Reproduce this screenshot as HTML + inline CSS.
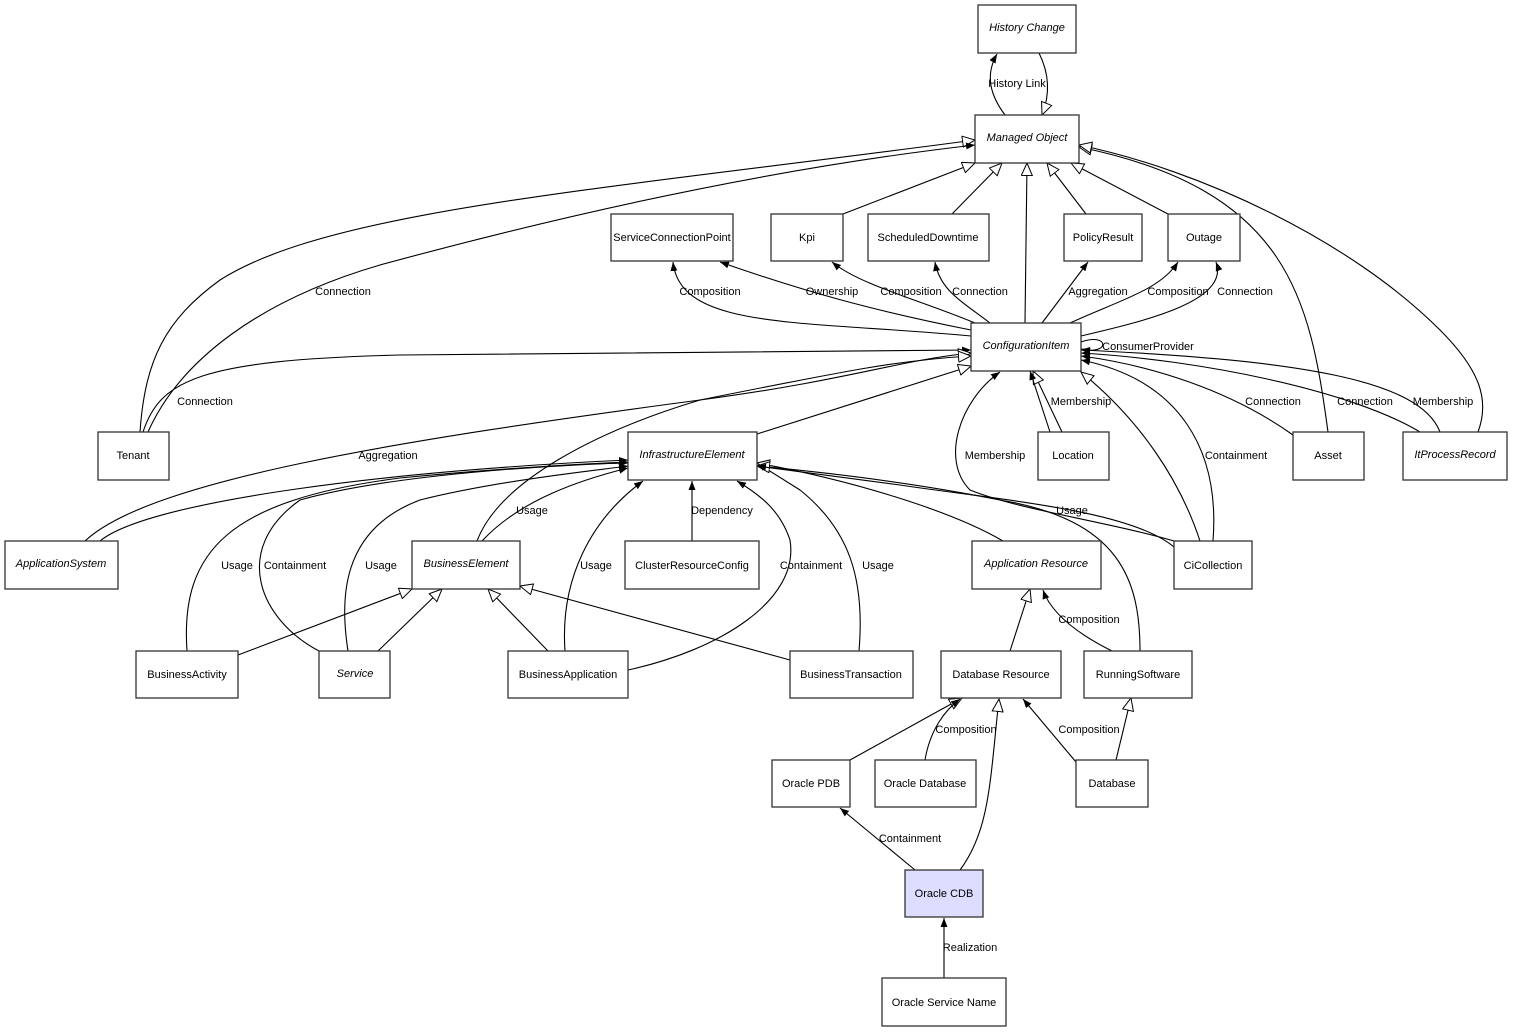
<!DOCTYPE html>
<html><head><meta charset="utf-8"><style>
body{margin:0;background:#fff;}
svg{display:block;font-family:"Liberation Sans",Arial,sans-serif;font-size:11px;}
.n{fill:#fff;stroke:#333;stroke-width:1.3}
.e{fill:none;stroke:#000;stroke-width:1.1}
.f{marker-end:url(#fa)}
.h{marker-end:url(#ha)}
text{text-anchor:middle;fill:#000}
.i{font-style:italic}
</style></head><body>
<svg width="1513" height="1033" viewBox="0 0 1513 1033" xmlns="http://www.w3.org/2000/svg">
<defs>
<marker id="fa" markerWidth="10" markerHeight="8" refX="9" refY="4" orient="auto" markerUnits="userSpaceOnUse"><path d="M0,0.5 L9,4 L0,7.5 z" fill="#000"/></marker>
<marker id="ha" markerWidth="14" markerHeight="12" refX="13" refY="6" orient="auto" markerUnits="userSpaceOnUse"><path d="M0.5,0.5 L13,6 L0.5,11.5 z" fill="#fff" stroke="#000" stroke-width="1"/></marker>
</defs>
<!-- edges -->
<g class="e">
<path class="f" d="M1005,115 C990,95 985,75 997,54"/>
<path class="h" d="M1039,53 C1050,75 1050,95 1042,115"/>
<path class="h" d="M843,214 L975,163"/>
<path class="h" d="M952,214 L1002,163"/>
<path class="h" d="M1025,323 L1027,163"/>
<path class="h" d="M1086,214 L1047,163"/>
<path class="h" d="M1168,214 L1071,163"/>
<path class="h" d="M140,432 C145,360 165,320 220,280 C330,210 600,190 975,140"/>
<path class="f" d="M148,432 C180,360 260,300 380,265 C600,205 800,165 975,145"/>
<path class="h" d="M1328,432 C1310,300 1290,190 1079,147"/>
<path class="h" d="M1478,432 C1490,400 1480,370 1440,330 C1350,240 1200,170 1079,145"/>
<path class="f" d="M971,336 C800,320 680,330 673,262"/>
<path class="f" d="M971,330 C870,310 800,290 720,262"/>
<path class="f" d="M975,323 C920,300 860,285 832,262"/>
<path class="f" d="M990,323 C960,300 940,290 935,262"/>
<path class="f" d="M1042,323 L1088,262"/>
<path class="f" d="M1070,323 C1120,300 1160,290 1178,262"/>
<path class="f" d="M1081,336 C1150,320 1230,300 1216,262"/>
<path class="f" d="M1081,342 C1110,332 1110,356 1081,349"/>
<path class="f" d="M143,432 C160,380 200,360 400,355 L971,350"/>
<path class="h" d="M85,541 C150,480 400,440 700,400 C850,380 900,360 971,353"/>
<path class="h" d="M757,434 L971,366"/>
<path class="h" d="M477,541 C500,480 600,430 700,400 C850,370 900,360 971,356"/>
<path class="f" d="M1174,541 C1100,520 1020,510 970,490 C940,460 960,400 1000,372"/>
<path class="h" d="M1062,432 L1033,371"/>
<path class="f" d="M1050,432 L1030,371"/>
<path class="h" d="M1200,541 C1180,480 1140,420 1081,372"/>
<path class="f" d="M1213,541 C1220,450 1180,380 1081,360"/>
<path class="f" d="M1293,435 C1230,390 1150,365 1081,356"/>
<path class="f" d="M1420,432 C1350,390 1200,360 1081,353"/>
<path class="f" d="M1440,432 C1420,380 1300,360 1081,350"/>
<path class="f" d="M100,541 C150,500 400,470 628,460"/>
<path class="f" d="M187,651 C180,550 230,500 400,478 C500,468 600,463 628,462"/>
<path class="f" d="M319,651 C260,620 230,550 300,500 C400,472 580,464 628,463"/>
<path class="f" d="M348,651 C340,600 340,530 420,500 C500,480 600,470 628,466"/>
<path class="f" d="M482,541 C520,500 580,480 628,468"/>
<path class="f" d="M565,651 C560,580 590,520 643,481"/>
<path class="f" d="M692,541 L692,481"/>
<path class="f" d="M628,670 C720,650 800,600 790,540 C780,510 760,495 737,481"/>
<path class="f" d="M859,651 C865,580 850,530 800,490 L757,463"/>
<path class="h" d="M1003,541 C950,510 850,480 757,463"/>
<path class="h" d="M1140,651 C1140,580 1120,520 1000,500 C900,480 800,470 757,466"/>
<path class="f" d="M1174,547 C1130,510 1000,500 900,485 L757,466"/>
<path class="h" d="M238,655 L412,589"/>
<path class="h" d="M378,651 L442,589"/>
<path class="h" d="M548,651 L488,589"/>
<path class="h" d="M790,660 L520,586"/>
<path class="h" d="M1010,651 L1030,589"/>
<path class="f" d="M1112,651 C1070,630 1050,610 1043,590"/>
<path class="h" d="M850,760 L962,698"/>
<path class="f" d="M925,760 C930,730 945,710 960,699"/>
<path class="h" d="M960,870 C990,830 990,780 999,699"/>
<path class="f" d="M1076,762 L1023,699"/>
<path class="h" d="M1116,760 L1131,698"/>
<path class="f" d="M915,870 L840,808"/>
<path class="f" d="M944,978 L944,918"/>
</g>
<!-- edge labels -->
<g>
<text x="1017" y="87">History Link</text>
<text x="343" y="295">Connection</text>
<text x="710" y="295">Composition</text>
<text x="832" y="295">Ownership</text>
<text x="911" y="295">Composition</text>
<text x="980" y="295">Connection</text>
<text x="1098" y="295">Aggregation</text>
<text x="1178" y="295">Composition</text>
<text x="1245" y="295">Connection</text>
<text x="1148" y="350">ConsumerProvider</text>
<text x="205" y="405">Connection</text>
<text x="1081" y="405">Membership</text>
<text x="1273" y="405">Connection</text>
<text x="1365" y="405">Connection</text>
<text x="1443" y="405">Membership</text>
<text x="388" y="459">Aggregation</text>
<text x="995" y="459">Membership</text>
<text x="1236" y="459">Containment</text>
<text x="532" y="514">Usage</text>
<text x="722" y="514">Dependency</text>
<text x="1072" y="514">Usage</text>
<text x="237" y="569">Usage</text>
<text x="295" y="569">Containment</text>
<text x="381" y="569">Usage</text>
<text x="596" y="569">Usage</text>
<text x="811" y="569">Containment</text>
<text x="878" y="569">Usage</text>
<text x="1089" y="623">Composition</text>
<text x="966" y="733">Composition</text>
<text x="1089" y="733">Composition</text>
<text x="910" y="842">Containment</text>
<text x="970" y="951">Realization</text>
</g>
<!-- nodes -->
<g>
<rect class="n" x="978" y="5" width="98" height="48"/><text class="i" x="1027" y="31">History Change</text>
<rect class="n" x="975" y="115" width="104" height="48"/><text class="i" x="1027" y="141">Managed Object</text>
<rect class="n" x="611" y="214" width="122" height="47"/><text x="672" y="241">ServiceConnectionPoint</text>
<rect class="n" x="771" y="214" width="72" height="47"/><text x="807" y="241">Kpi</text>
<rect class="n" x="868" y="214" width="121" height="47"/><text x="928" y="241">ScheduledDowntime</text>
<rect class="n" x="1064" y="214" width="78" height="47"/><text x="1103" y="241">PolicyResult</text>
<rect class="n" x="1168" y="214" width="72" height="47"/><text x="1204" y="241">Outage</text>
<rect class="n" x="971" y="323" width="110" height="48"/><text class="i" x="1026" y="349">ConfigurationItem</text>
<rect class="n" x="98" y="432" width="71" height="48"/><text x="133" y="459">Tenant</text>
<rect class="n" x="628" y="432" width="129" height="48"/><text class="i" x="692" y="458">InfrastructureElement</text>
<rect class="n" x="1038" y="432" width="71" height="48"/><text x="1073" y="459">Location</text>
<rect class="n" x="1293" y="432" width="71" height="48"/><text x="1328" y="459">Asset</text>
<rect class="n" x="1403" y="432" width="104" height="48"/><text class="i" x="1455" y="458">ItProcessRecord</text>
<rect class="n" x="5" y="541" width="113" height="48"/><text class="i" x="61" y="567">ApplicationSystem</text>
<rect class="n" x="412" y="541" width="108" height="48"/><text class="i" x="466" y="567">BusinessElement</text>
<rect class="n" x="625" y="541" width="134" height="48"/><text x="692" y="569">ClusterResourceConfig</text>
<rect class="n" x="972" y="541" width="129" height="48"/><text class="i" x="1036" y="567">Application Resource</text>
<rect class="n" x="1174" y="541" width="78" height="48"/><text x="1213" y="569">CiCollection</text>
<rect class="n" x="136" y="651" width="102" height="47"/><text x="187" y="678">BusinessActivity</text>
<rect class="n" x="319" y="651" width="71" height="47"/><text class="i" x="355" y="677">Service</text>
<rect class="n" x="508" y="651" width="120" height="47"/><text x="568" y="678">BusinessApplication</text>
<rect class="n" x="790" y="651" width="123" height="47"/><text x="851" y="678">BusinessTransaction</text>
<rect class="n" x="941" y="651" width="120" height="47"/><text x="1001" y="678">Database Resource</text>
<rect class="n" x="1084" y="651" width="108" height="47"/><text x="1138" y="678">RunningSoftware</text>
<rect class="n" x="772" y="760" width="78" height="47"/><text x="811" y="787">Oracle PDB</text>
<rect class="n" x="875" y="760" width="101" height="47"/><text x="925" y="787">Oracle Database</text>
<rect class="n" x="1076" y="760" width="72" height="47"/><text x="1112" y="787">Database</text>
<rect class="n" x="905" y="870" width="78" height="47" style="fill:#ddddff"/><text x="944" y="897">Oracle CDB</text>
<rect class="n" x="882" y="978" width="124" height="48"/><text x="944" y="1006">Oracle Service Name</text>
</g>
</svg>
</body></html>
